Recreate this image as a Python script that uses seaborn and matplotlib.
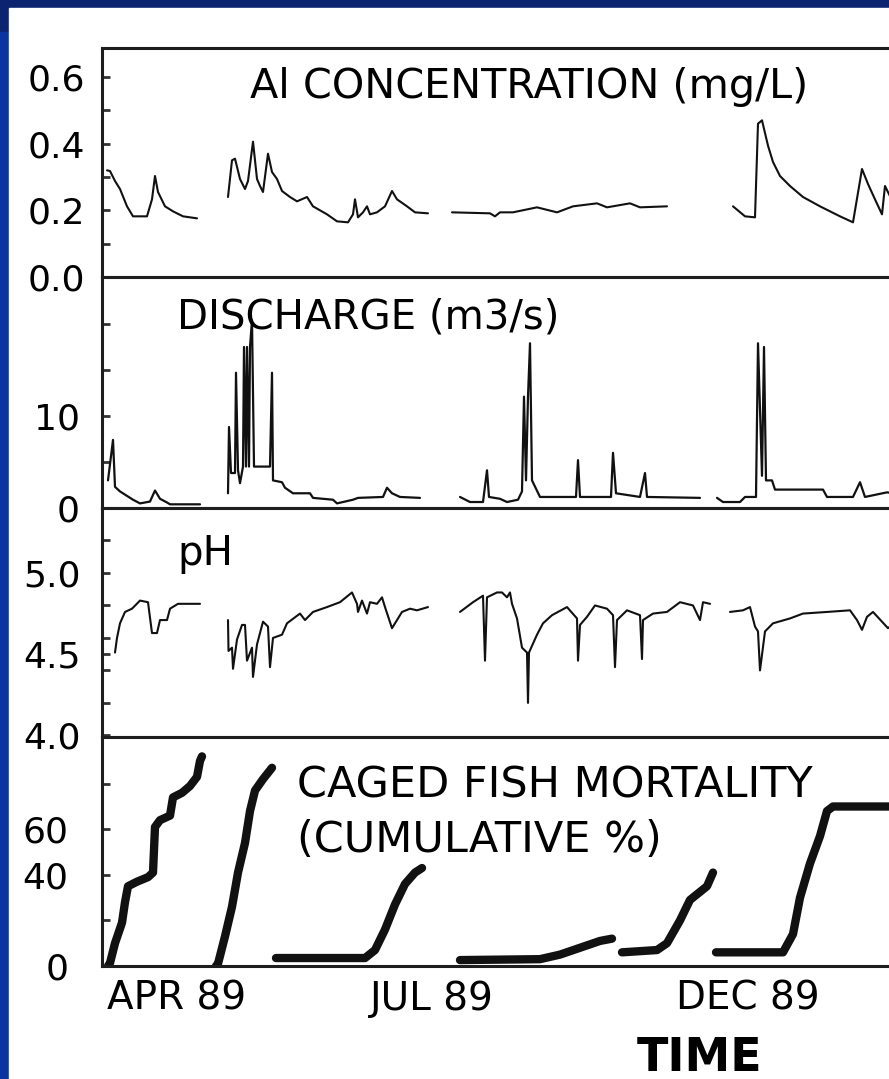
import pandas as pd
import matplotlib.pyplot as plt
from matplotlib.patches import Rectangle
import seaborn as sns

# time axis is an arbitrary index (the original axis is not linear in days)
# --- Al concentration (mg/L), one list per field period
al_t = [
    [5, 8, 13, 18, 25, 31, 45, 50, 53, 56, 63, 71, 81, 95],
    [126, 130, 133, 138, 143, 146, 151, 155, 158, 161, 166, 170, 175, 180, 188, 195, 205,
     211, 225, 235, 246, 251, 253, 256, 261, 265, 268, 275, 283, 290, 295, 305, 313, 326],
    [350, 388, 393, 398, 411, 435, 455, 471, 495, 505, 528, 538, 565],
    [631, 643, 653, 656, 660, 666, 671, 678, 688, 701, 718, 738, 751, 760, 766, 773, 780,
     783, 790, 798],
]
al_v = [
    [0.32, 0.318, 0.288, 0.264, 0.212, 0.182, 0.182, 0.233, 0.303, 0.255, 0.212, 0.197, 0.182, 0.176],
    [0.24, 0.35, 0.355, 0.294, 0.264, 0.288, 0.406, 0.294, 0.273, 0.255, 0.37, 0.315, 0.294, 0.258,
     0.24, 0.227, 0.24, 0.212, 0.188, 0.167, 0.164, 0.188, 0.233, 0.179, 0.194, 0.212, 0.188,
     0.194, 0.212, 0.258, 0.233, 0.212, 0.194, 0.191],
    [0.194, 0.191, 0.182, 0.194, 0.194, 0.209, 0.194, 0.212, 0.221, 0.209, 0.221, 0.209, 0.212],
    [0.212, 0.182, 0.179, 0.46, 0.47, 0.394, 0.345, 0.303, 0.273, 0.24, 0.212, 0.182, 0.164,
     0.324, 0.279, 0.233, 0.188, 0.273, 0.23, 0.2],
]

# --- discharge (m3/s)
q_t = [
    [6, 11, 13, 18, 31, 38, 48, 53, 58, 65, 68, 98],
    [126, 127, 129, 133, 134, 136, 138, 141, 142, 144, 145, 147, 148, 150, 152, 168, 170, 171,
     180, 183, 191, 208, 211, 231, 235, 251, 256, 281, 285, 290, 298, 318],
    [358, 368, 381, 385, 387, 398, 405, 416, 420, 422, 424, 426, 428, 430, 438, 474, 476, 478,
     509, 511, 514, 538, 543, 545, 598],
    [615, 621, 638, 643, 654, 656, 660, 662, 664, 670, 673, 721, 725, 751, 758, 763, 785, 798],
]
q_v = [
    [3.0, 7.4, 2.3, 1.8, 0.9, 0.5, 0.7, 1.9, 1.0, 0.6, 0.4, 0.4],
    [1.6, 8.8, 3.8, 3.8, 14.7, 4.1, 2.7, 4.5, 17.5, 4.5, 17.5, 4.5, 17.5, 20.4, 4.5, 4.5, 14.7,
     3.0, 2.8, 2.2, 1.6, 1.6, 1.1, 0.9, 0.5, 0.9, 1.1, 1.2, 2.2, 1.6, 1.2, 1.1],
    [1.2, 0.65, 0.65, 4.1, 1.2, 1.0, 0.65, 0.9, 1.8, 12.1, 3.0, 12.1, 17.9, 3.0, 1.2, 1.2, 5.2,
     1.2, 1.2, 6.0, 1.6, 1.2, 3.8, 1.2, 1.1],
    [1.1, 0.65, 0.65, 1.2, 1.2, 17.9, 3.5, 17.5, 3.0, 3.0, 2.0, 2.0, 1.2, 1.2, 2.8, 1.2, 1.7, 1.5],
]

# --- pH
ph_t = [
    [13, 15, 18, 23, 30, 38, 46, 50, 55, 58, 65, 68, 76, 98],
    [126, 126.5, 130, 131, 135, 140, 143, 145, 150, 151, 155, 161, 166, 168, 171, 180, 185, 198,
     203, 211, 225, 238, 250, 255, 256, 260, 265, 268, 275, 280, 283, 290, 300, 308, 315, 326],
    [358, 371, 381, 383, 385, 395, 400, 405, 408, 410, 415, 420, 425, 426, 427, 435, 441, 450,
     465, 475, 476, 478, 485, 493, 505, 511, 513, 515, 525, 538, 540, 541, 551, 565, 578, 591,
     598, 601, 608],
    [628, 641, 648, 653, 656, 658, 663, 671, 688, 701, 725, 748, 755, 760, 765, 771, 780, 786, 798],
]
ph_v = [
    [4.51, 4.60, 4.69, 4.76, 4.78, 4.83, 4.82, 4.63, 4.63, 4.71, 4.71, 4.78, 4.81, 4.81],
    [4.71, 4.52, 4.54, 4.41, 4.59, 4.68, 4.68, 4.46, 4.54, 4.36, 4.56, 4.70, 4.67, 4.42, 4.60,
     4.62, 4.69, 4.75, 4.71, 4.76, 4.79, 4.82, 4.88, 4.81, 4.76, 4.83, 4.75, 4.82, 4.81, 4.85,
     4.79, 4.66, 4.76, 4.78, 4.77, 4.79],
    [4.76, 4.82, 4.86, 4.46, 4.85, 4.88, 4.88, 4.85, 4.88, 4.81, 4.72, 4.54, 4.51, 4.20, 4.51,
     4.62, 4.69, 4.74, 4.79, 4.72, 4.46, 4.68, 4.73, 4.80, 4.78, 4.74, 4.42, 4.71, 4.77, 4.74,
     4.47, 4.71, 4.75, 4.76, 4.82, 4.80, 4.71, 4.82, 4.81],
    [4.76, 4.77, 4.79, 4.67, 4.64, 4.40, 4.64, 4.69, 4.72, 4.75, 4.76, 4.77, 4.71, 4.65, 4.73,
     4.76, 4.70, 4.66, 4.72],
]

# --- caged fish mortality (cumulative %)
fish_t = [
    [6, 8, 13, 20, 23, 26, 35, 46, 51, 53, 58, 68, 71, 80, 88, 95, 98, 100],
    [114, 116, 123, 130, 136, 143, 148, 153, 161, 170],
    [174, 263, 273, 283, 293, 303, 313, 320],
    [358, 438, 458, 478, 498, 510],
    [520, 555, 565, 578, 588, 605, 611],
    [614, 681, 691, 698, 708, 718, 725, 731, 798],
]
fish_v = [
    [0, 1.3, 10, 19, 28, 35, 37, 39, 41, 61, 64, 66, 74, 76, 79, 83, 90, 92],
    [0, 1, 13, 26, 41, 54, 68, 77, 82, 87],
    [3.5, 3.5, 7, 16, 27, 36, 41, 43],
    [2.6, 3, 5, 8, 11, 12],
    [6, 7, 10, 20, 29, 35, 41],
    [6, 6, 14, 30, 45, 57, 68, 70, 70],
]

month_ticks = [75, 330, 646]
month_labels = ['APR 89', 'JUL 89', 'DEC 89']


def make_df(ts, vs):
    parts = []
    for i, (t, v) in enumerate(zip(ts, vs)):
        parts.append(pd.DataFrame({'t': t, 'v': v, 'seg': i}))
    return pd.concat(parts, ignore_index=True)


sns.set_style('white')
plt.rcParams['font.family'] = ['DejaVu Sans']

W, H = 889, 1079
fig = plt.figure(figsize=(W / 100, H / 100), dpi=100, facecolor='#0c2370')
fig.add_artist(Rectangle((0, 0), 9 / W, 0.97, transform=fig.transFigure,
                         color='#0a34a0', zorder=-2))
fig.add_artist(Rectangle((9 / W, 0), 1, 1 - 8 / H, transform=fig.transFigure,
                         color='white', zorder=-1))

# panel edges in pixels (top, bottom)
edges = [(48, 277), (277, 508), (508, 737), (737, 966)]
left, right = 102, 905

panels = [
    dict(df=make_df(al_t, al_v), ylim=(0, 0.687), lw=1.5,
         ticks=[0, 0.1, 0.2, 0.3, 0.4, 0.5, 0.6],
         labels=['0.0', '', '0.2', '', '0.4', '', '0.6'], pad=12),
    dict(df=make_df(q_t, q_v), ylim=(0, 25.1), lw=1.6,
         ticks=[0, 5, 10, 15, 20], labels=['0', '', '10', '', ''], pad=16),
    dict(df=make_df(ph_t, ph_v), ylim=(3.99, 5.40), lw=1.5,
         ticks=[4.0, 4.2, 4.4, 4.5, 4.6, 4.8, 5.0, 5.2],
         labels=['4.0', '', '', '4.5', '', '', '5.0', ''], pad=15),
    dict(df=make_df(fish_t, fish_v), ylim=(0, 100.5), lw=6,
         ticks=[0, 20, 40, 60, 80], labels=['0', '', '40', '60', ''], pad=24),
]

axes = []
for (top, bot), p in zip(edges, panels):
    ax = fig.add_axes([left / W, 1 - bot / H, (right - left) / W, (bot - top) / H])
    ax.set_facecolor('white')
    sns.lineplot(data=p['df'], x='t', y='v', units='seg', estimator=None, sort=False,
                 color='#111111', lw=p['lw'], ax=ax, legend=False)
    ax.set_xlim(0, right - left)
    ax.set_ylim(*p['ylim'])
    ax.set_yticks(p['ticks'], p['labels'])
    ax.tick_params(axis='y', direction='in', length=6, width=2, color='#333333',
                   labelsize=26, labelcolor='black', pad=p['pad'], left=True)
    ax.set_xticks([])
    ax.set_xlabel('')
    ax.set_ylabel('')
    for s in ax.spines.values():
        s.set_visible(True)
        s.set_linewidth(2.2)
        s.set_color('#1e1e1e')
    axes.append(ax)

axes[-1].set_xticks(month_ticks, month_labels)
axes[-1].tick_params(axis='x', length=0, labelsize=28, labelcolor='black', pad=10)


def ftext(x, y, s, size=29):
    fig.text(x / W, 1 - y / H, s, ha='left', va='baseline', fontsize=size, color='black')


ftext(250, 98, 'Al CONCENTRATION (mg/L)', 29.8)
ftext(177, 328, 'DISCHARGE (m3/s)')
ftext(177, 565, 'pH')
ftext(297, 798, 'CAGED FISH MORTALITY', 31)
ftext(297, 852, '(CUMULATIVE %)', 31)
fig.text(700 / W, 1 - 1071 / H, 'TIME', ha='center', va='baseline', fontsize=33,
         fontweight='bold', color='black')

fig.savefig('out.png', dpi=100, facecolor=fig.get_facecolor())
